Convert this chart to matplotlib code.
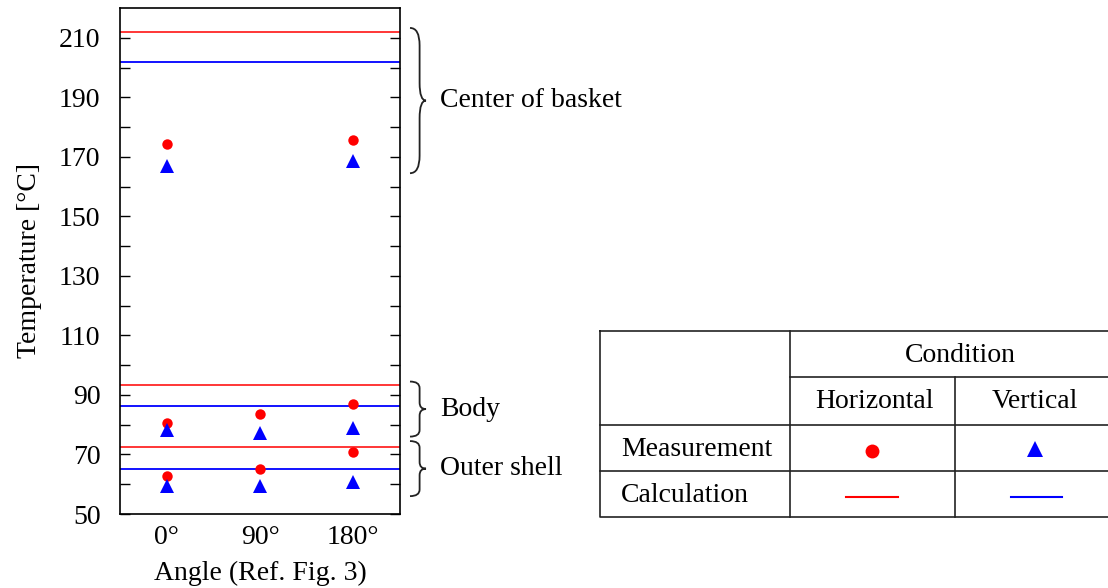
import matplotlib.pyplot as plt
from matplotlib.path import Path
from matplotlib.patches import PathPatch
import matplotlib.transforms as mtransforms

plt.rcParams['font.family'] = ['Liberation Serif', 'DejaVu Serif']

angles = ["0°", "90°", "180°"]
x_pos = [0, 1, 2]

# measurements (circles = horizontal, triangles = vertical)
basket_horiz = [174.2, None, 175.7]
basket_vert = [167.0, None, 168.7]
body_horiz = [80.5, 83.5, 86.9]
body_vert = [78.3, 77.2, 78.8]
shell_horiz = [62.7, 65.1, 70.7]
shell_vert = [59.4, 59.4, 60.9]

# calculations (horizontal lines)
calc_horiz = [212.0, 93.2, 72.5]
calc_vert = [202.0, 86.2, 65.1]

groups = ["Center of basket", "Body", "Outer shell"]
group_ranges = [(164.5, 213.3), (76.0, 94.5), (56.0, 74.5)]

FS = 20

fig = plt.figure(figsize=(11.08, 5.88), dpi=100)
ax = fig.add_axes([120 / 1108, 74 / 588, 280 / 1108, 506 / 588])

for v in calc_horiz:
    ax.axhline(v, color="#ff0000", lw=1.1, zorder=1)
for v in calc_vert:
    ax.axhline(v, color="#0000ff", lw=1.3, zorder=1)

for hs, vs in [(basket_horiz, basket_vert), (body_horiz, body_vert), (shell_horiz, shell_vert)]:
    xs = [x for x, h in zip(x_pos, hs) if h is not None]
    ax.plot(xs, [h for h in hs if h is not None], 'o', color="#ff0000", ms=7.5, mew=0, zorder=3)
    xs = [x for x, v in zip(x_pos, vs) if v is not None]
    ax.plot(xs, [v for v in vs if v is not None], '^', color="#0000ff", ms=9.5, mew=0, zorder=3)

ax.set_xlim(-0.5, 2.5)
ax.set_ylim(50, 220)
ax.set_xticks(x_pos)
ax.set_xticklabels(angles, fontsize=FS)
ax.tick_params(axis='x', length=0, pad=8)
ax.set_yticks(range(50, 211, 20))
ax.set_yticks(range(60, 211, 20), minor=True)
ax.tick_params(axis='y', which='both', direction='in', right=True, length=7, width=1, labelsize=FS, pad=14)
ax.set_ylabel("Temperature [°C]", fontsize=FS, labelpad=12)
ax.set_xlabel("Angle (Ref. Fig. 3)", fontsize=FS, labelpad=8)
for s in ax.spines.values():
    s.set_linewidth(1.2)


def brace(ax, y0, y1, label):
    # x in axes fraction, y in data units
    trans = mtransforms.blended_transform_factory(ax.transAxes, ax.transData)
    x_ax = 1.0 + 10 / 280
    w = 16 / 280
    ym = (y0 + y1) / 2
    k = (y1 - y0) * 0.06
    xm = x_ax + w * 0.6
    verts = [
        (x_ax, y1),
        (xm, y1), (xm, y1 - 2 * k),
        (xm, ym + 2 * k),
        (xm, ym), (x_ax + w, ym),
        (xm, ym), (xm, ym - 2 * k),
        (xm, y0 + 2 * k),
        (xm, y0), (x_ax, y0),
    ]
    codes = [Path.MOVETO,
             Path.CURVE3, Path.CURVE3,
             Path.LINETO,
             Path.CURVE3, Path.CURVE3,
             Path.CURVE3, Path.CURVE3,
             Path.LINETO,
             Path.CURVE3, Path.CURVE3]
    patch = PathPatch(Path(verts, codes), transform=trans, fill=False, lw=1.3,
                      edgecolor="#222222", clip_on=False)
    ax.add_patch(patch)
    ax.text(x_ax + w + 14 / 280, ym, label, transform=trans, fontsize=FS,
            va='center', ha='left', clip_on=False)


for (y0, y1), g in zip(group_ranges, groups):
    brace(ax, y0, y1, g)

# legend table
tax = fig.add_axes([600 / 1108, (588 - 517) / 588, 512 / 1108, 186 / 588])
tax.set_xlim(600, 1112)
tax.set_ylim(517, 331)
tax.axis('off')
lk = dict(color="#222222", lw=1.2, clip_on=False)
tax.plot([600, 1112, 1112, 600, 600], [331, 331, 517, 517, 331], **lk)
tax.plot([790, 790], [331, 517], **lk)
tax.plot([955, 955], [377, 517], **lk)
tax.plot([790, 1112], [377, 377], **lk)
tax.plot([600, 1112], [425, 425], **lk)
tax.plot([600, 1112], [471, 471], **lk)
tf = dict(fontsize=FS, va='center')
tax.text(960, 355, "Condition", ha='center', **tf)
tax.text(874, 402, "Horizontal", ha='center', **tf)
tax.text(1035, 402, "Vertical", ha='center', **tf)
tax.text(621, 449, "Measurement", ha='left', **tf)
tax.text(621, 496, "Calculation", ha='left', **tf)
tax.plot([872], [451], 'o', color="#ff0000", ms=10, mew=0)
tax.plot([1035], [449], '^', color="#0000ff", ms=11, mew=0)
tax.plot([846, 898], [497, 497], color="#ff0000", lw=1.5)
tax.plot([1011, 1062], [497, 497], color="#0000ff", lw=1.5)

fig.savefig("out.png", dpi=100)
